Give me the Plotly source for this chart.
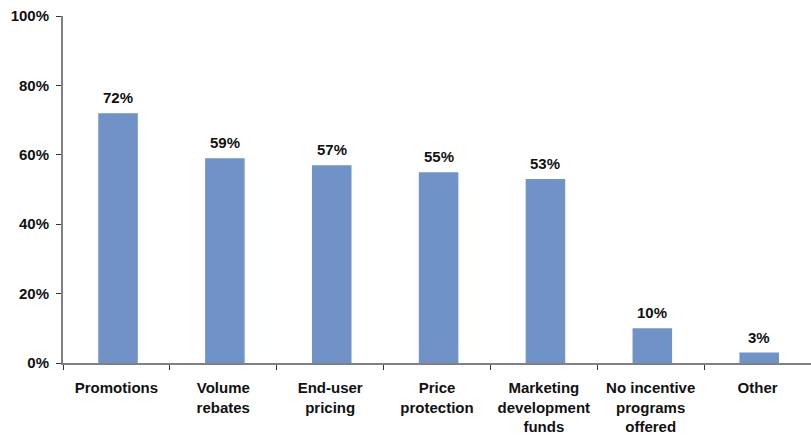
import plotly.graph_objects as go

categories = [
    "Promotions",
    "Volume<br>rebates",
    "End-user<br>pricing",
    "Price<br>protection",
    "Marketing<br>development<br>funds",
    "No incentive<br>programs<br>offered",
    "Other",
]
shares = [0.72, 0.59, 0.57, 0.55, 0.53, 0.10, 0.03]
y_ticks = [0, 0.2, 0.4, 0.6, 0.8, 1.0]

font_family = "Liberation Sans, Arial, sans-serif"
axis_grey = "#808080"
text_color = "#111111"

fig = go.Figure(
    go.Bar(
        x=categories,
        y=shares,
        width=0.37,
        offset=-0.17,
        marker=dict(color="#7092C6", line=dict(width=0)),
        cliponaxis=False,
    )
)

# value labels above each bar
for cat, v in zip(categories, shares):
    fig.add_annotation(
        x=cat,
        y=v,
        xshift=1.5,
        text=f"<b>{v:.0%}</b>",
        showarrow=False,
        yanchor="bottom",
        yshift=5,
        font=dict(family=font_family, size=15, color=text_color),
    )

fig.update_layout(
    width=811,
    height=436,
    margin=dict(l=63, r=0, t=16, b=73),
    paper_bgcolor="white",
    plot_bgcolor="white",
    showlegend=False,
    font=dict(family=font_family, size=15, color=text_color),
)

fig.update_xaxes(
    showline=True,
    linecolor=axis_grey,
    linewidth=2,
    ticks="outside",
    tickson="boundaries",
    ticklen=5,
    tickcolor="#333333",
    ticklabelstandoff=10,
    tickfont=dict(family=font_family, size=15, color=text_color, weight="bold"),
    showgrid=False,
)

fig.update_yaxes(
    range=[0, 1],
    tickvals=y_ticks,
    tickformat=".0%",
    showline=True,
    linecolor=axis_grey,
    linewidth=2,
    ticks="outside",
    ticklen=5,
    tickcolor="#333333",
    ticklabelstandoff=4,
    tickfont=dict(family=font_family, size=15, color=text_color, weight="bold"),
    showgrid=False,
    zeroline=False,
)

fig.write_html("out.html")
